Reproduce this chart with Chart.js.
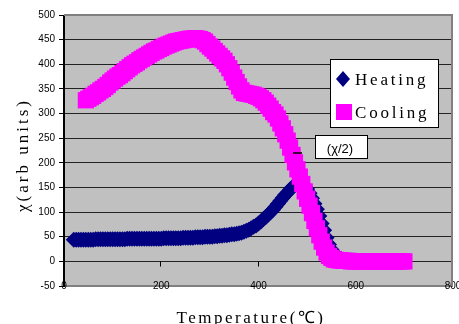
<!DOCTYPE html>
<html>
<head>
<meta charset="utf-8">
<script src="https://cdn.jsdelivr.net/npm/chart.js@4/dist/chart.umd.min.js"></script>
<style>
  html, body { margin: 0; padding: 0; background: #fff; }
  canvas { display: block; }
</style>
</head>
<body>
<canvas id="chiChart" width="459" height="324"></canvas>
<script>
// ===== susceptibility vs temperature =====
// heating run: 20 .. 585 degC, every 5 degC
const heatTemp = [];
for (let t = 20; t <= 585; t += 5) heatTemp.push(t);
const heatChi = [
    44, 44, 44, 44, 44, 44, 44, 44, 44,
    45, 45, 45, 45, 45, 45, 45, 45, 45, 45,
    45, 45, 45, 46, 46, 46, 46, 46, 46, 46,
    46, 46, 46, 46, 46, 46, 46, 46, 47, 47,
    47, 47, 47, 47, 47, 47, 48, 48, 48, 48,
    48, 49, 49, 49, 49, 50, 50, 50, 50, 51,
    51, 52, 52, 53, 53, 54, 55, 55, 56, 57,
    58, 60, 62, 64, 67, 70, 73, 77, 81, 86,
    90, 95, 100, 105, 111, 117, 123, 129, 135, 140,
    146, 151, 155, 157, 158, 156, 152, 147, 138, 128,
    117, 106, 92, 77, 63, 48, 34, 24, 16, 11,
    8, 5, 3, 2, 2
];

// cooling run: 45 .. 700 degC, every 5 degC
const coolTemp = [];
for (let t = 45; t <= 700; t += 5) coolTemp.push(t);
const coolChi = [
    327, 330, 333, 336, 340, 343, 347, 350, 354, 358,
    363, 367, 371, 375, 378, 382, 386, 390, 394, 398,
    401, 404, 408, 411, 414, 417, 420, 423, 426, 428,
    431, 433, 436, 438, 440, 442, 444, 446, 447, 448,
    449, 450, 451, 452, 452, 453, 452, 451, 449, 446,
    441, 436, 432, 427, 422, 417, 412, 407, 400, 392,
    383, 373, 364, 355, 347, 342, 341, 340, 339, 338,
    336, 334, 331, 327, 322, 316, 310, 303, 298, 290,
    280, 270, 258, 245, 231, 216, 201, 187, 172, 157,
    142, 127, 113, 98, 82, 67, 53, 40, 28, 18,
    11, 7, 4, 3, 2, 2, 1, 1, 1, 0,
    0, 0, 0, 0, 0, 0, 0, 0, 0, 0,
    0, 0, 0, 0, 0, 0, 0, 0, 0, 0,
    0, 0
];

const seriesNames = ['Heating', 'Cooling'];
const xTickValues = [0, 200, 400, 600, 800];

const NAVY = '#000080';
const MAGENTA = '#FF00FF';
const FRAME = '#808080';

function toPoints(xs, ys) {
    return xs.map(function(x, i) { return { x: x, y: ys[i] }; });
}

// end labels may hang outside the plot, don't let them squeeze it
function noLabelPadding(scale) {
    scale.paddingLeft = scale.paddingRight = scale.paddingTop = scale.paddingBottom = 0;
    scale.getPadding = function() { return { left: 0, top: 0, right: 0, bottom: 0 }; };
}

// grey plot area + bottom frame line (labels sit on it)
const plotBackground = {
    id: 'plotBackground',
    beforeDraw: function(chart) {
        const a = chart.chartArea;
        const ctx = chart.ctx;
        ctx.save();
        ctx.fillStyle = '#C0C0C0';
        ctx.fillRect(a.left, a.top, a.right - a.left, a.bottom - a.top);
        ctx.strokeStyle = FRAME;
        ctx.lineWidth = 2;
        ctx.beginPath();
        ctx.moveTo(a.left, a.bottom);
        ctx.lineTo(a.right, a.bottom);
        ctx.stroke();
        ctx.restore();
    }
};

// tick marks hanging below the zero line
const zeroAxisTicks = {
    id: 'zeroAxisTicks',
    beforeDatasetsDraw: function(chart) {
        const ctx = chart.ctx;
        const xs = chart.scales.x;
        const y0 = Math.round(chart.scales.y.getPixelForValue(0)) + 0.5;
        ctx.save();
        ctx.strokeStyle = '#000';
        ctx.lineWidth = 1;
        ctx.beginPath();
        xTickValues.forEach(function(v) {
            const px = Math.round(xs.getPixelForValue(v)) - 0.5;
            ctx.moveTo(px, y0);
            ctx.lineTo(px, y0 + 5);
        });
        ctx.stroke();
        ctx.restore();
    }
};

// frame, titles, legend box and the (chi/2) note
const decorations = {
    id: 'decorations',
    afterDraw: function(chart) {
        const ctx = chart.ctx;
        const a = chart.chartArea;
        ctx.save();

        // grey frame on top and right
        ctx.strokeStyle = FRAME;
        ctx.lineWidth = 2;
        ctx.beginPath();
        ctx.moveTo(a.left, a.top);
        ctx.lineTo(a.right - 1, a.top);
        ctx.lineTo(a.right - 1, a.bottom);
        ctx.stroke();

        // left axis line
        ctx.strokeStyle = '#000';
        ctx.lineWidth = 1;
        ctx.beginPath();
        ctx.moveTo(a.left - 0.5, a.top);
        ctx.lineTo(a.left - 0.5, a.bottom);
        ctx.stroke();

        ctx.fillStyle = '#000';
        ctx.font = '17px "Liberation Serif"';
        ctx.letterSpacing = '2.5px';
        ctx.textAlign = 'center';
        ctx.textBaseline = 'alphabetic';
        ctx.fillText('Temperature(\u2103)', 251, 323);

        ctx.save();
        ctx.translate(28, 155);
        ctx.rotate(-Math.PI / 2);
        ctx.letterSpacing = '3px';
        ctx.fillText('\u03C7(arb units)', 0, 0);
        ctx.restore();

        // legend
        ctx.letterSpacing = '0px';
        ctx.fillStyle = '#fff';
        ctx.fillRect(330, 59, 108, 68);
        ctx.strokeStyle = '#000';
        ctx.lineWidth = 1;
        ctx.strokeRect(330.5, 59.5, 108, 68);

        ctx.fillStyle = NAVY;
        ctx.beginPath();
        ctx.moveTo(343, 71);
        ctx.lineTo(350, 79);
        ctx.lineTo(343, 87);
        ctx.lineTo(336, 79);
        ctx.closePath();
        ctx.fill();

        ctx.fillStyle = MAGENTA;
        ctx.fillRect(336, 104, 16, 16);

        ctx.fillStyle = '#000';
        ctx.font = '17px "Liberation Serif"';
        ctx.letterSpacing = '2.8px';
        ctx.textAlign = 'left';
        ctx.fillText(seriesNames[0], 355, 85);
        ctx.fillText(seriesNames[1], 355, 118);

        // note box
        ctx.letterSpacing = '0px';
        ctx.fillStyle = '#fff';
        ctx.fillRect(315, 135, 52, 23);
        ctx.strokeRect(315.5, 135.5, 52, 23);
        ctx.fillStyle = '#000';
        ctx.font = '13px "Liberation Sans"';
        ctx.textAlign = 'center';
        ctx.fillText('(\u03C7/2)', 340, 153);

        ctx.lineWidth = 1.5;
        ctx.beginPath();
        ctx.moveTo(293, 153);
        ctx.lineTo(302, 153);
        ctx.stroke();

        ctx.restore();
    }
};

const chart = new Chart(document.getElementById('chiChart'), {
    type: 'scatter',
    data: {
        datasets: [{
            label: seriesNames[0],
            data: toPoints(heatTemp, heatChi),
            pointStyle: 'rectRot',
            pointRadius: 8,
            pointBorderWidth: 0,
            backgroundColor: NAVY,
            borderColor: NAVY,
            showLine: false,
            order: 1
        }, {
            label: seriesNames[1],
            data: toPoints(coolTemp, coolChi),
            pointStyle: 'rect',
            pointRadius: 11.5,
            pointBorderWidth: 0,
            backgroundColor: MAGENTA,
            borderColor: MAGENTA,
            showLine: false,
            order: 0
        }]
    },
    options: {
        responsive: false,
        animation: false,
        devicePixelRatio: 1,
        events: [],
        layout: {
            autoPadding: false,   // big markers would otherwise inset the plot
            padding: { top: 15, right: 6, left: 0, bottom: 0 }
        },
        plugins: {
            legend: { display: false },
            tooltip: { enabled: false }
        },
        scales: {
            x: {
                type: 'linear',
                min: 0,
                max: 800,
                afterBuildTicks: function(scale) {
                    scale.ticks = xTickValues.map(function(v) { return { value: v }; });
                },
                afterFit: function(scale) {
                    scale.height = 38;
                    noLabelPadding(scale);
                },
                // labels straddle the bottom frame, so don't clip them to the axis box
                afterUpdate: function(scale) {
                    scale._computeLabelArea = function() { return undefined; };
                },
                grid: { display: false, drawTicks: false },
                border: { display: false },
                ticks: {
                    color: '#000',
                    font: { family: 'Liberation Sans', size: 10 },
                    padding: -6,
                    maxRotation: 0,
                    autoSkip: false
                }
            },
            y: {
                type: 'linear',
                min: -50,
                max: 500,
                afterFit: function(scale) {
                    scale.width = 64;
                    noLabelPadding(scale);
                },
                grid: {
                    color: function(ctx) {
                        const v = ctx.tick ? ctx.tick.value : null;
                        return (v === -50 || v === 500) ? 'rgba(0,0,0,0)' : '#222';
                    },
                    tickColor: '#000',
                    lineWidth: 1,
                    drawTicks: true,
                    tickLength: 5
                },
                border: { display: true, color: '#000', width: 1 },
                ticks: {
                    stepSize: 50,
                    color: '#000',
                    font: { family: 'Liberation Sans', size: 10 },
                    padding: 4
                }
            }
        }
    },
    plugins: [plotBackground, zeroAxisTicks, decorations]
});
</script>
</body>
</html>
